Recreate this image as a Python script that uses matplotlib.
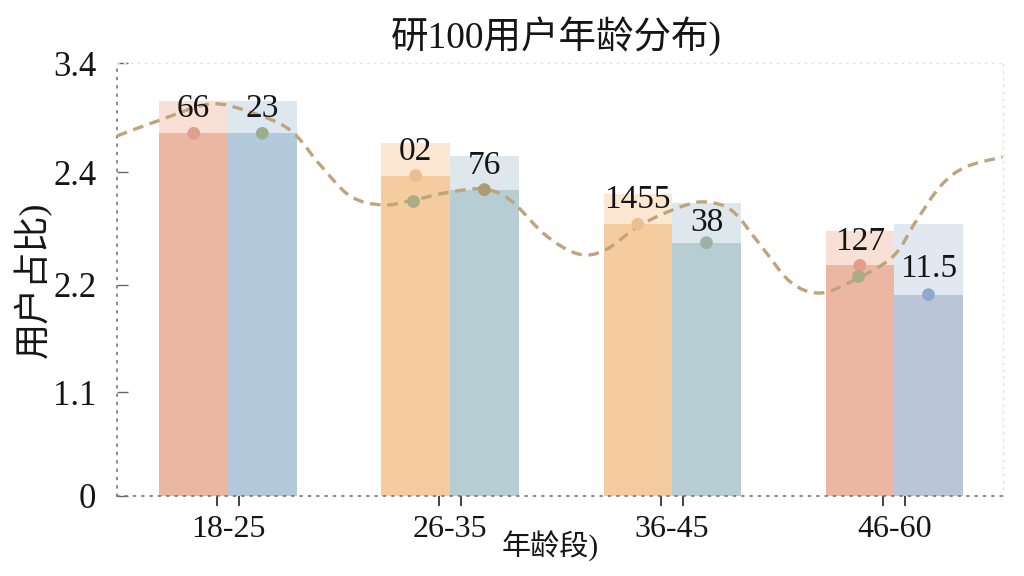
import matplotlib
matplotlib.use("Agg")
import matplotlib.pyplot as plt
from matplotlib.path import Path
from matplotlib.patches import PathPatch
import numpy as np

plt.rcParams['font.family'] = ['Liberation Serif', 'Noto Sans CJK SC', 'DejaVu Sans']

# ---------------- data ----------------
categories = ['18-25', '26-35', '36-45', '46-60']
# axis-unit heights (solid part and light "cap" top) for left / right bar
left_solid = [3.35, 2.96, 2.51, 2.13]
left_top = [3.65, 3.26, 2.79, 2.45]
right_solid = [3.35, 2.83, 2.34, 1.86]
right_top = [3.65, 3.14, 2.71, 2.51]
left_labels = ['66', '02', '1455', '127']
right_labels = ['23', '76', '38', '11.5']
ytick_pos = [0, 0.96, 1.95, 2.99, 4.0]
ytick_labels = ['0', '1.1', '2.2', '2.4', '3.4']
trend_x = [-0.500, -0.306, -0.081, 0.099, 0.279, 0.415, 0.550, 0.698, 0.834, 1.000,
           1.149, 1.271, 1.429, 1.577, 1.699, 1.857, 2.037, 2.150, 2.271, 2.397,
           2.533, 2.663, 2.803, 2.992, 3.096, 3.209, 3.321, 3.488]
trend_y = [3.326, 3.473, 3.621, 3.547, 3.381, 3.058, 2.771, 2.688, 2.734, 2.808,
           2.836, 2.734, 2.411, 2.236, 2.273, 2.503, 2.670, 2.716, 2.633, 2.319,
           1.977, 1.875, 1.977, 2.208, 2.531, 2.864, 3.039, 3.132]
trend_dots_x = [0.832, 2.838]
trend_dots_y = [2.728, 2.035]
title = '研100用户年龄分布)'
xlabel = '年龄段)'
ylabel = '用户占比)'

# ---------------- style ----------------
left_solid_c = ['#EBB7A3', '#F5CCA0', '#F5CCA0', '#EBB7A3']
left_light_c = ['#F8E0D6', '#FCE7D2', '#FCE7D2', '#F8E0D6']
right_solid_c = ['#B3CADD', '#B6CDD3', '#B6CDD3', '#BAC5D8']
right_light_c = ['#DDE7EF', '#DEE8EC', '#DEE8EC', '#E1E8F1']
left_dot_c = ['#E0A090', '#EDBE8E', '#EDBE8E', '#E59C88']
right_dot_c = ['#9EAD8C', '#B09C74', '#9FB0A6', '#8FAACB']
trend_c = '#BFA47C'
label_pad_left = [0.077, 0.083, 0.055, 0.10]
label_pad_right = [0.077, 0.092, 0.185, 0.41]

fig = plt.figure(figsize=(10.24, 5.76), dpi=100)
ax = fig.add_axes([117/1024, 80/576, 886/1024, 433/576])

x = np.arange(len(categories))
w = 0.309

ax.bar(x - w/2, left_top, w, color=left_light_c, zorder=1)
ax.bar(x - w/2, left_solid, w, color=left_solid_c, zorder=2)
ax.bar(x + w/2, right_top, w, color=right_light_c, zorder=1)
ax.bar(x + w/2, right_solid, w, color=right_solid_c, zorder=2)

# smooth dashed trend line (Catmull-Rom -> cubic Bezier via Path)
pts = np.column_stack([trend_x, trend_y])
verts = [tuple(pts[0])]
codes = [Path.MOVETO]
n = len(pts)
for i in range(n - 1):
    p0 = pts[i - 1] if i > 0 else pts[i]
    p1 = pts[i]
    p2 = pts[i + 1]
    p3 = pts[i + 2] if i + 2 < n else pts[i + 1]
    c1 = p1 + (p2 - p0) / 6.0
    c2 = p2 - (p3 - p1) / 6.0
    verts += [tuple(c1), tuple(c2), tuple(p2)]
    codes += [Path.CURVE4] * 3
patch = PathPatch(Path(verts, codes), fill=False, edgecolor=trend_c, lw=2.4,
                  linestyle=(0, (3.2, 2.0)), zorder=3, capstyle='butt')
ax.add_patch(patch)

ax.scatter(x - w/2, left_solid, s=85, color=left_dot_c, zorder=4, linewidths=0)
ax.scatter(x + w/2, right_solid, s=85, color=right_dot_c, zorder=4, linewidths=0)
ax.scatter(trend_dots_x, trend_dots_y, s=85, color='#A9AC84', zorder=4, linewidths=0)

for i in range(len(categories)):
    ax.text(x[i] - w/2, left_top[i] - label_pad_left[i], left_labels[i], ha='center',
            va='center', fontsize=24, color='#151515', zorder=5)
    ax.text(x[i] + w/2, right_top[i] - label_pad_right[i], right_labels[i], ha='center',
            va='center', fontsize=24, color='#151515', zorder=5)

ax.set_xlim(-0.5, 3.49)
ax.set_ylim(0, 4.0)

ax.set_xticks(x)
ax.set_xticklabels(categories, fontsize=23, color='#151515')
ax.tick_params(axis='x', which='major', length=0, pad=14)
ax.set_xticks(np.concatenate([x - 0.05, x + 0.05]), minor=True)
ax.tick_params(axis='x', which='minor', direction='out', length=7, width=1.3, color='#333333')

ax.set_yticks(ytick_pos)
ax.set_yticklabels(ytick_labels, fontsize=25, color='#151515')
ax.tick_params(axis='y', which='major', direction='in', length=8, width=1.0, color='#666666', pad=15)
ax.tick_params(axis='y', which='minor', length=0)

for side in ['left', 'bottom']:
    ax.spines[side].set_linestyle((0, (1, 4)))
    ax.spines[side].set_color('#777777')
    ax.spines[side].set_linewidth(1.2)
for side in ['top', 'right']:
    ax.spines[side].set_linestyle((0, (1, 4)))
    ax.spines[side].set_color('#E2E2E2')
    ax.spines[side].set_linewidth(1.0)

ax.set_ylabel(ylabel, fontsize=26, color='#151515')
ax.yaxis.set_label_coords(-0.073, 0.5)

fig.text(550/1024, 1 - 546/576, xlabel, ha='center', va='center', fontsize=21, color='#151515')
fig.text(556/1024, 1 - 36/576, title, ha='center', va='center', fontsize=27, color='#151515')

fig.savefig('out.png', dpi=100, facecolor='white')
